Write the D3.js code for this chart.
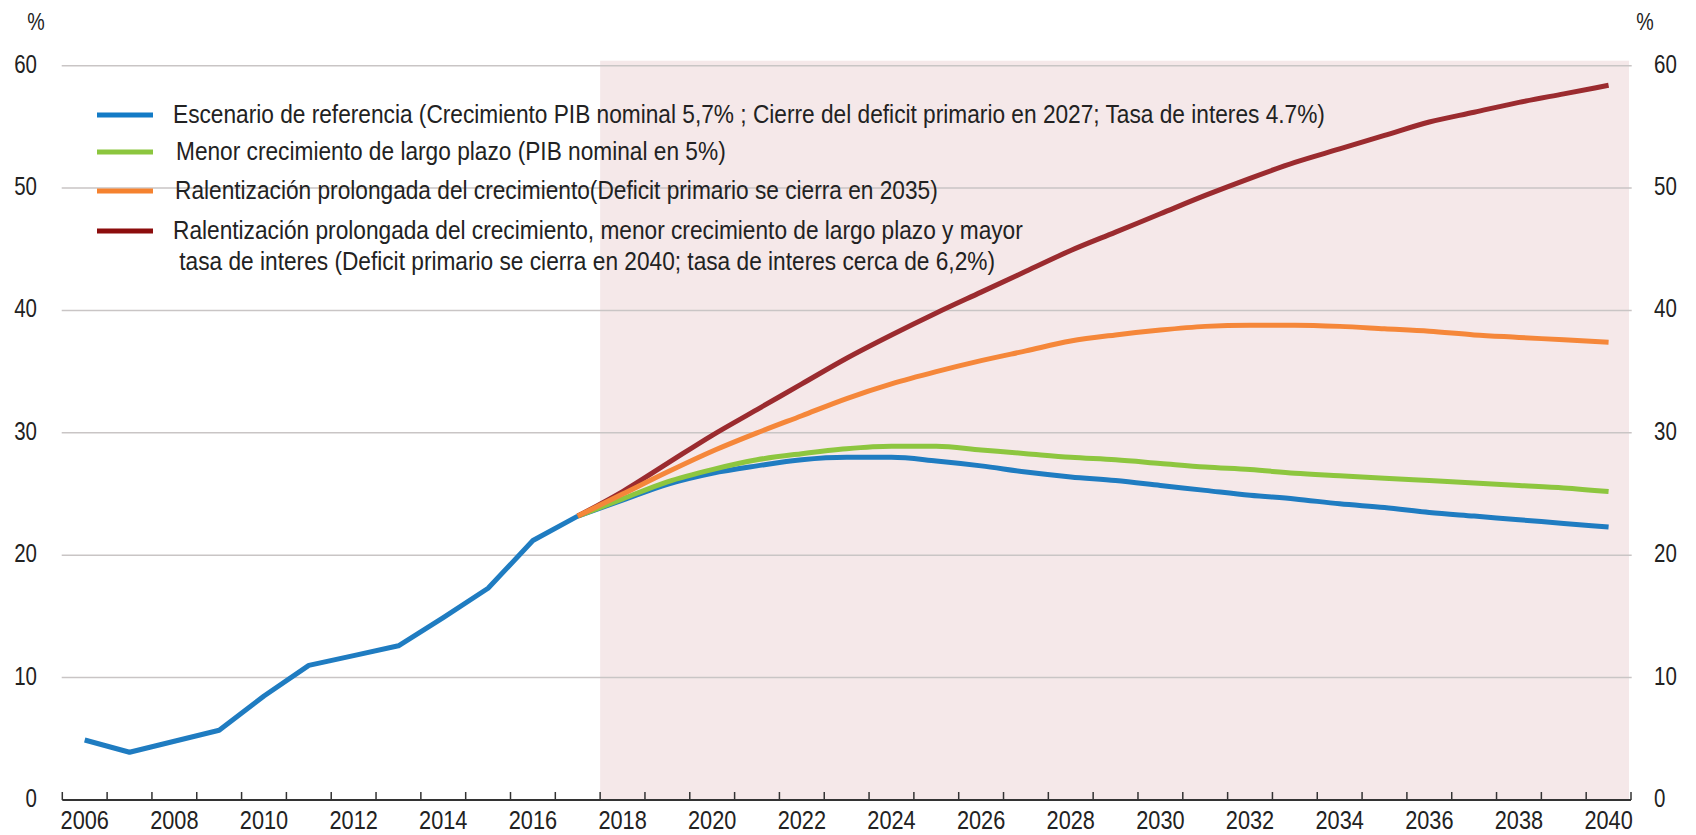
<!DOCTYPE html>
<html>
<head>
<meta charset="utf-8">
<script src="https://cdn.jsdelivr.net/npm/d3@7/dist/d3.min.js"></script>
<style>
  html, body { margin: 0; padding: 0; background: #ffffff; }
  svg { display: block; }
  text { font-family: "Liberation Sans", Arial, sans-serif; fill: #222; }
</style>
</head>
<body>
<svg id="chart" width="1696" height="835"></svg>
<script>
// ---------- data ----------
const years = d3.range(2006, 2041);
const xTickLabels = ["2006","2008","2010","2012","2014","2016","2018","2020","2022","2024","2026","2028","2030","2032","2034","2036","2038","2040"];
const yTicks = [0, 10, 20, 30, 40, 50, 60];

const histYears = [2006,2007,2008,2009,2010,2011,2012,2013,2014,2015,2016,2017];
const histValues = [4.9, 3.9, 4.8, 5.7, 8.5, 11.0, 11.8, 12.6, 14.9, 17.3, 21.2, 23.2];

const projYears = [2017,2018,2019,2020,2021,2022,2023,2024,2025,2026,2027,2028,2029,2030,2031,2032,2033,2034,2035,2036,2037,2038,2039,2040];
const baseline =  [23.2,24.5,25.8,26.7,27.3,27.8,28.0,28.0,27.7,27.3,26.8,26.4,26.1,25.7,25.3,24.9,24.6,24.2,23.9,23.5,23.2,22.9,22.6,22.3];
const lowGrowth = [23.2,24.6,26.0,27.0,27.8,28.3,28.7,28.9,28.9,28.6,28.3,28.0,27.8,27.5,27.2,27.0,26.7,26.5,26.3,26.1,25.9,25.7,25.5,25.2];
const slowdown =  [23.2,25.0,26.8,28.5,30.0,31.4,32.8,34.0,35.0,35.9,36.7,37.5,38.0,38.4,38.7,38.8,38.8,38.7,38.5,38.3,38.0,37.8,37.6,37.4];
const combined =  [23.2,25.2,27.5,29.8,31.9,34.0,36.1,38.0,39.8,41.5,43.2,44.9,46.4,47.9,49.4,50.8,52.1,53.2,54.3,55.4,56.2,57.0,57.7,58.4];

const shadeStartYear = 2018;

const legendLabels = [
  ["Escenario de referencia (Crecimiento PIB nominal 5,7% ; Cierre del deficit primario en 2027; Tasa de interes 4.7%)"],
  ["Menor crecimiento de largo plazo (PIB nominal en 5%)"],
  ["Ralentización prolongada del crecimiento(Deficit primario se cierra en 2035)"],
  ["Ralentización prolongada del crecimiento, menor crecimiento de largo plazo y mayor", " tasa de interes (Deficit primario se cierra en 2040; tasa de interes cerca de 6,2%)"]
];
const lineColors = ["#1f7cc1", "#8dc63f", "#f5873a", "#9b2b2f"];
const swatchColors = ["#137bc6", "#8cc63e", "#f5822f", "#8c0d0d"];

// ---------- layout ----------
const svg = d3.select("#chart");
const mLeft = 62.3, mRight = 1631, mTop = 65.7, mBottom = 800;
const NARROW = 0.82;   // Arial -> Arial Narrow horizontal ratio (axis labels)
const LEG_NARROW = 0.89; // legend text horizontal ratio

const x = d3.scaleBand().domain(years).range([mLeft, mRight]).paddingInner(0).paddingOuter(0);
const y = d3.scaleLinear().domain([0, 60]).range([mBottom, mTop]);
const cx = yr => x(yr) + x.bandwidth() / 2;

function narrowText(g, tx, ty, txt, size, anchor, sx) {
  return g.append("text")
    .attr("transform", `translate(${tx},${ty}) scale(${sx || NARROW},1)`)
    .attr("font-size", size).attr("text-anchor", anchor || "start")
    .style("white-space", "pre").text(txt);
}

// shaded projection area
svg.append("rect")
  .attr("x", x(shadeStartYear))
  .attr("y", y(60) - 5)
  .attr("width", mRight - 2 - x(shadeStartYear))
  .attr("height", mBottom - (y(60) - 5))
  .attr("fill", "#f5e8e9");

// gridlines
svg.append("g").selectAll("line").data(yTicks.filter(d => d > 0)).join("line")
  .attr("x1", mLeft - 0.6).attr("x2", mRight + 0.7)
  .attr("y1", d => y(d)).attr("y2", d => y(d))
  .attr("stroke", "#c9c5c5").attr("stroke-width", 1.5);

// y labels left & right
const yAxisL = d3.axisLeft(y).tickValues(yTicks).tickSize(0).tickPadding(0);
const gL = svg.append("g").attr("transform", `translate(37,0)`).call(yAxisL);
gL.select(".domain").remove();
gL.selectAll("text").attr("font-size", 25).attr("dy", "0.3em").attr("y", -1)
  .attr("transform", `scale(${NARROW},1)`)
  .style("font-family", "'Liberation Sans', Arial, sans-serif").attr("fill", "#222");

const yAxisR = d3.axisRight(y).tickValues(yTicks).tickSize(0).tickPadding(0);
const gR = svg.append("g").attr("transform", `translate(1654,0)`).call(yAxisR);
gR.select(".domain").remove();
gR.selectAll("text").attr("font-size", 25).attr("dy", "0.3em").attr("y", -1)
  .attr("transform", `scale(${NARROW},1)`)
  .style("font-family", "'Liberation Sans', Arial, sans-serif").attr("fill", "#222");

// % units
narrowText(svg, 36, 30, "%", 24, "middle");
narrowText(svg, 1645, 30, "%", 24, "middle");

// x axis
const gx = svg.append("g");
gx.append("line").attr("x1", mLeft).attr("x2", mRight).attr("y1", mBottom).attr("y2", mBottom)
  .attr("stroke", "#333").attr("stroke-width", 2);
const tickPos = years.map(d => x(d)).concat([mRight]);
gx.selectAll("line.tk").data(tickPos).join("line").attr("class", "tk")
  .attr("x1", d => d).attr("x2", d => d).attr("y1", mBottom).attr("y2", mBottom - 8)
  .attr("stroke", "#333").attr("stroke-width", 1.5);
xTickLabels.forEach(d => narrowText(gx, cx(+d), 829, d, 26.5, "middle"));

// lines
const line = d3.line().x(d => cx(d[0])).y(d => y(d[1])).curve(d3.curveMonotoneX);
const histLine = d3.line().x(d => cx(d[0])).y(d => y(d[1]));
const series = [baseline, lowGrowth, combined, slowdown];
const seriesColor = [lineColors[0], lineColors[1], lineColors[3], lineColors[2]];

svg.append("path").datum(histYears.map((yr, i) => [yr, histValues[i]]))
  .attr("d", histLine).attr("fill", "none").attr("stroke", lineColors[0])
  .attr("stroke-width", 5).attr("stroke-linejoin", "round");

series.forEach((s, k) => {
  svg.append("path").datum(projYears.map((yr, i) => [yr, s[i]]))
    .attr("d", line).attr("fill", "none").attr("stroke", seriesColor[k])
    .attr("stroke-width", 5).attr("stroke-linejoin", "round");
});

// legend
const legRows = [115, 152, 191, 231];
const legTextX = [173, 176, 175, 173];
const lg = svg.append("g");
legendLabels.forEach((lbls, i) => {
  lg.append("line").attr("x1", 97).attr("x2", 153).attr("y1", legRows[i]).attr("y2", legRows[i])
    .attr("stroke", swatchColors[i]).attr("stroke-width", 5);
  lbls.forEach((t, j) => narrowText(lg, legTextX[i], legRows[i] + 8 + j * 31, t, 25.5, "start", LEG_NARROW));
});
</script>
</body>
</html>
